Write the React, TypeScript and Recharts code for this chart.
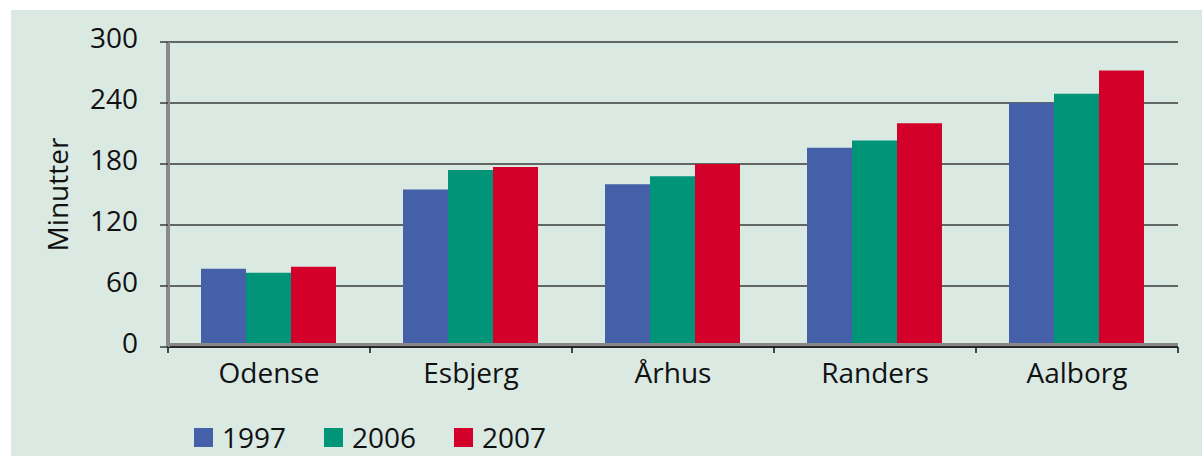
import {
  BarChart,
  Bar,
  XAxis,
  YAxis,
  CartesianGrid,
  Legend,
  ReferenceLine,
} from "recharts";

const byer = ["Odense", "Esbjerg", "Århus", "Randers", "Aalborg"];
const aar1997 = [77, 155, 160, 196, 240];
const aar2006 = [73, 174, 168, 203, 249];
const aar2007 = [79, 177, 180, 220, 272];
const yTicks = [0, 60, 120, 180, 240, 300];

const serier = [
  { key: "v1997", navn: "1997", farve: "#4360a8" },
  { key: "v2006", navn: "2006", farve: "#009478" },
  { key: "v2007", navn: "2007", farve: "#d3002a" },
];

const data = byer.map((by, i) => ({
  by,
  v1997: aar1997[i],
  v2006: aar2006[i],
  v2007: aar2007[i],
}));

const font = "'Open Sans', 'Noto Sans', sans-serif";

// x-akse: streg ved kategorigrænserne, navn i midten
function ByTick(props: any) {
  const { x, y, payload, index, visibleTicksCount } = props;
  const half = payload?.offset ?? 101;
  return (
    <g>
      <line x1={x - half} y1={y - 8} x2={x - half} y2={y - 2} stroke="#111" strokeWidth={1.5} />
      {index === visibleTicksCount - 1 && (
        <line x1={x + half} y1={y - 8} x2={x + half} y2={y - 2} stroke="#111" strokeWidth={1.5} />
      )}
      <text x={x} y={y + 28} textAnchor="middle" fontSize={28} fill="#111" fontFamily={font}>
        {payload.value}
      </text>
    </g>
  );
}

// grå "gulv" lige over nullinjen
function Gulv(props: any) {
  const { x1, x2, y1 } = props;
  return <rect x={x1} y={y1 - 4} width={x2 - x1} height={4} fill="#888" />;
}

function LegendIndhold(props: any) {
  const { payload } = props;
  return (
    <div style={{ display: "flex", fontFamily: font, fontSize: 28, lineHeight: "22px", color: "#111" }}>
      {payload.map((p: any) => (
        <div key={p.value} style={{ display: "flex", alignItems: "center", width: 130 }}>
          <span style={{ display: "inline-block", width: 19, height: 19, background: p.color, marginRight: 9 }} />
          <span>{p.value}</span>
        </div>
      ))}
    </div>
  );
}

export default function App() {
  return (
    <div style={{ position: "absolute", left: 0, top: 0, width: 1202, height: 456, background: "#fff", overflow: "hidden" }}>
      <div style={{ position: "absolute", left: 11, top: 10, right: 0, bottom: 0, background: "#dbe9e3" }} />
      <div style={{ position: "absolute", left: 0, top: 0 }}>
        <BarChart
          width={1202}
          height={456}
          data={data}
          margin={{ top: 42, right: 24, left: 0, bottom: 49 }}
          barCategoryGap={33}
          barGap={0}
        >
          <CartesianGrid horizontal vertical={false} stroke="#3a3a3a" strokeWidth={1.5} />
          <ReferenceLine y={0} stroke="#888" shape={<Gulv />} />
          <XAxis
            dataKey="by"
            height={60}
            axisLine={{ stroke: "#111", strokeWidth: 1.5 }}
            tickLine={false}
            tick={<ByTick />}
            interval={0}
          />
          <YAxis
            domain={[0, 300]}
            ticks={yTicks}
            width={168}
            tickSize={8}
            tickMargin={22}
            axisLine={{ stroke: "#8a8a8a", strokeWidth: 4 }}
            tickLine={{ stroke: "#3a3a3a", strokeWidth: 1.5 }}
            tick={{ fontSize: 28, fill: "#111", fontFamily: font, dy: -4 }}
            label={{
              value: "Minutter",
              angle: -90,
              position: "center",
              dx: -26,
              style: { fontSize: 28, fill: "#111", fontFamily: font },
            }}
          />
          <Legend
            layout="horizontal"
            verticalAlign="middle"
            align="center"
            content={<LegendIndhold />}
            wrapperStyle={{ top: 426, left: 194, width: "auto" }}
          />
          {serier.map((s) => (
            <Bar key={s.key} dataKey={s.key} name={s.navn} fill={s.farve} isAnimationActive={false} />
          ))}
        </BarChart>
      </div>
    </div>
  );
}
